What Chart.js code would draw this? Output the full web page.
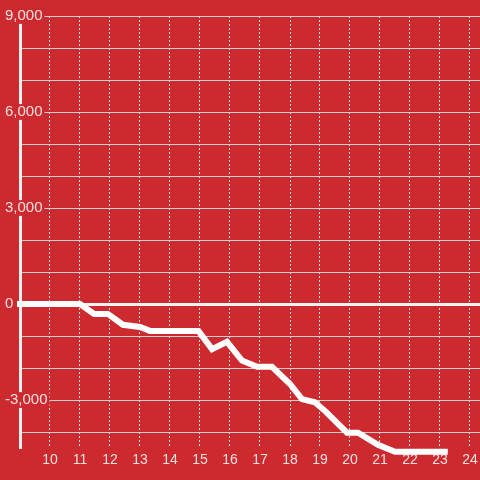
<!DOCTYPE html>
<html>
<head>
<meta charset="utf-8">
<script src="https://cdn.jsdelivr.net/npm/chart.js@4/dist/chart.umd.min.js"></script>
<style>
  html, body { margin: 0; padding: 0; background: #cc2a2f; }
  canvas { display: block; }
</style>
</head>
<body>
<canvas id="balanceChart" width="480" height="480"></canvas>
<script>
// values
var hours   = [8.9, 11.0, 11.47, 11.93, 12.43, 13.0, 13.33, 14.95, 15.4, 15.9, 16.4, 16.9, 17.4, 18.0, 18.4, 18.83, 19.2, 19.9, 20.27, 20.93, 21.5, 23.26];
var balance = [0, 0, -310, -310, -650, -720, -840, -840, -1410, -1180, -1770, -1960, -1960, -2500, -2970, -3070, -3370, -4020, -4020, -4400, -4620, -4620];

var xTicks = [10, 11, 12, 13, 14, 15, 16, 17, 18, 19, 20, 21, 22, 23, 24];
var yTicks = [-4000, -3000, -2000, -1000, 0, 1000, 2000, 3000, 4000, 5000, 6000, 7000, 8000, 9000];
var yLabelled = [-3000, 0, 3000, 6000, 9000];

var BG = '#cc2a2f';
var LABEL = 'rgba(255, 255, 255, 0.85)';

document.addEventListener('DOMContentLoaded', function () {
    var ctx = document.getElementById('balanceChart').getContext('2d');

    var points = hours.map(function (h, i) {
        return { x: h, y: balance[i] };
    });

    new Chart(ctx, {
        type: 'line',
        data: {
            datasets: [{
                data: points,
                borderColor: '#ffffff',
                borderWidth: 6,
                pointRadius: 0,
                tension: 0,
                fill: false,
                clip: false
            }]
        },
        options: {
            responsive: false,
            animation: false,
            layout: {
                padding: { left: 5, top: 16, right: 0, bottom: 0 }
            },
            plugins: {
                legend: { display: false },
                tooltip: { enabled: false }
            },
            scales: {
                x: {
                    type: 'linear',
                    min: 9,
                    max: 9 + 460 / 30,
                    afterBuildTicks: function (scale) {
                        scale.ticks = xTicks.map(function (v) { return { value: v }; });
                    },
                    afterFit: function (scale) {
                        scale.height = 32;
                    },
                    grid: {
                        color: '#dcdcdc',
                        lineWidth: 1,
                        drawTicks: true,
                        tickLength: 4,
                        tickColor: 'transparent'
                    },
                    border: { display: false, dash: [2, 2] },
                    ticks: {
                        color: LABEL,
                        padding: 0,
                        maxRotation: 0,
                        autoSkip: false,
                        font: { family: '"Liberation Sans", Arial, sans-serif', size: 14 }
                    }
                },
                y: {
                    type: 'linear',
                    min: -4500,
                    max: 9000,
                    afterBuildTicks: function (scale) {
                        scale.ticks = yTicks.map(function (v) { return { value: v }; });
                    },
                    afterFit: function (scale) {
                        scale.width = 15;
                    },
                    grid: {
                        color: function (c) {
                            return c.tick && c.tick.value === 0 ? '#f2f2f2' : '#cfcfcf';
                        },
                        lineWidth: function (c) {
                            return c.tick && c.tick.value === 0 ? 3 : 1;
                        },
                        drawTicks: false
                    },
                    border: { display: true, color: '#f0f0f0', width: 3 },
                    ticks: {
                        color: LABEL,
                        mirror: true,
                        padding: -15,
                        crossAlign: 'near',
                        autoSkip: false,
                        font: { family: '"Liberation Sans", Arial, sans-serif', size: 15, lineHeight: 1.05 },
                        showLabelBackdrop: function (c) {
                            return yLabelled.indexOf(c.tick.value) !== -1;
                        },
                        backdropColor: BG,
                        backdropPadding: { left: 2, right: 2, top: 0, bottom: 0 },
                        callback: function (value) {
                            return yLabelled.indexOf(value) !== -1 ? value.toLocaleString('en-US') : '';
                        }
                    }
                }
            }
        }
    });
});
</script>
</body>
</html>
